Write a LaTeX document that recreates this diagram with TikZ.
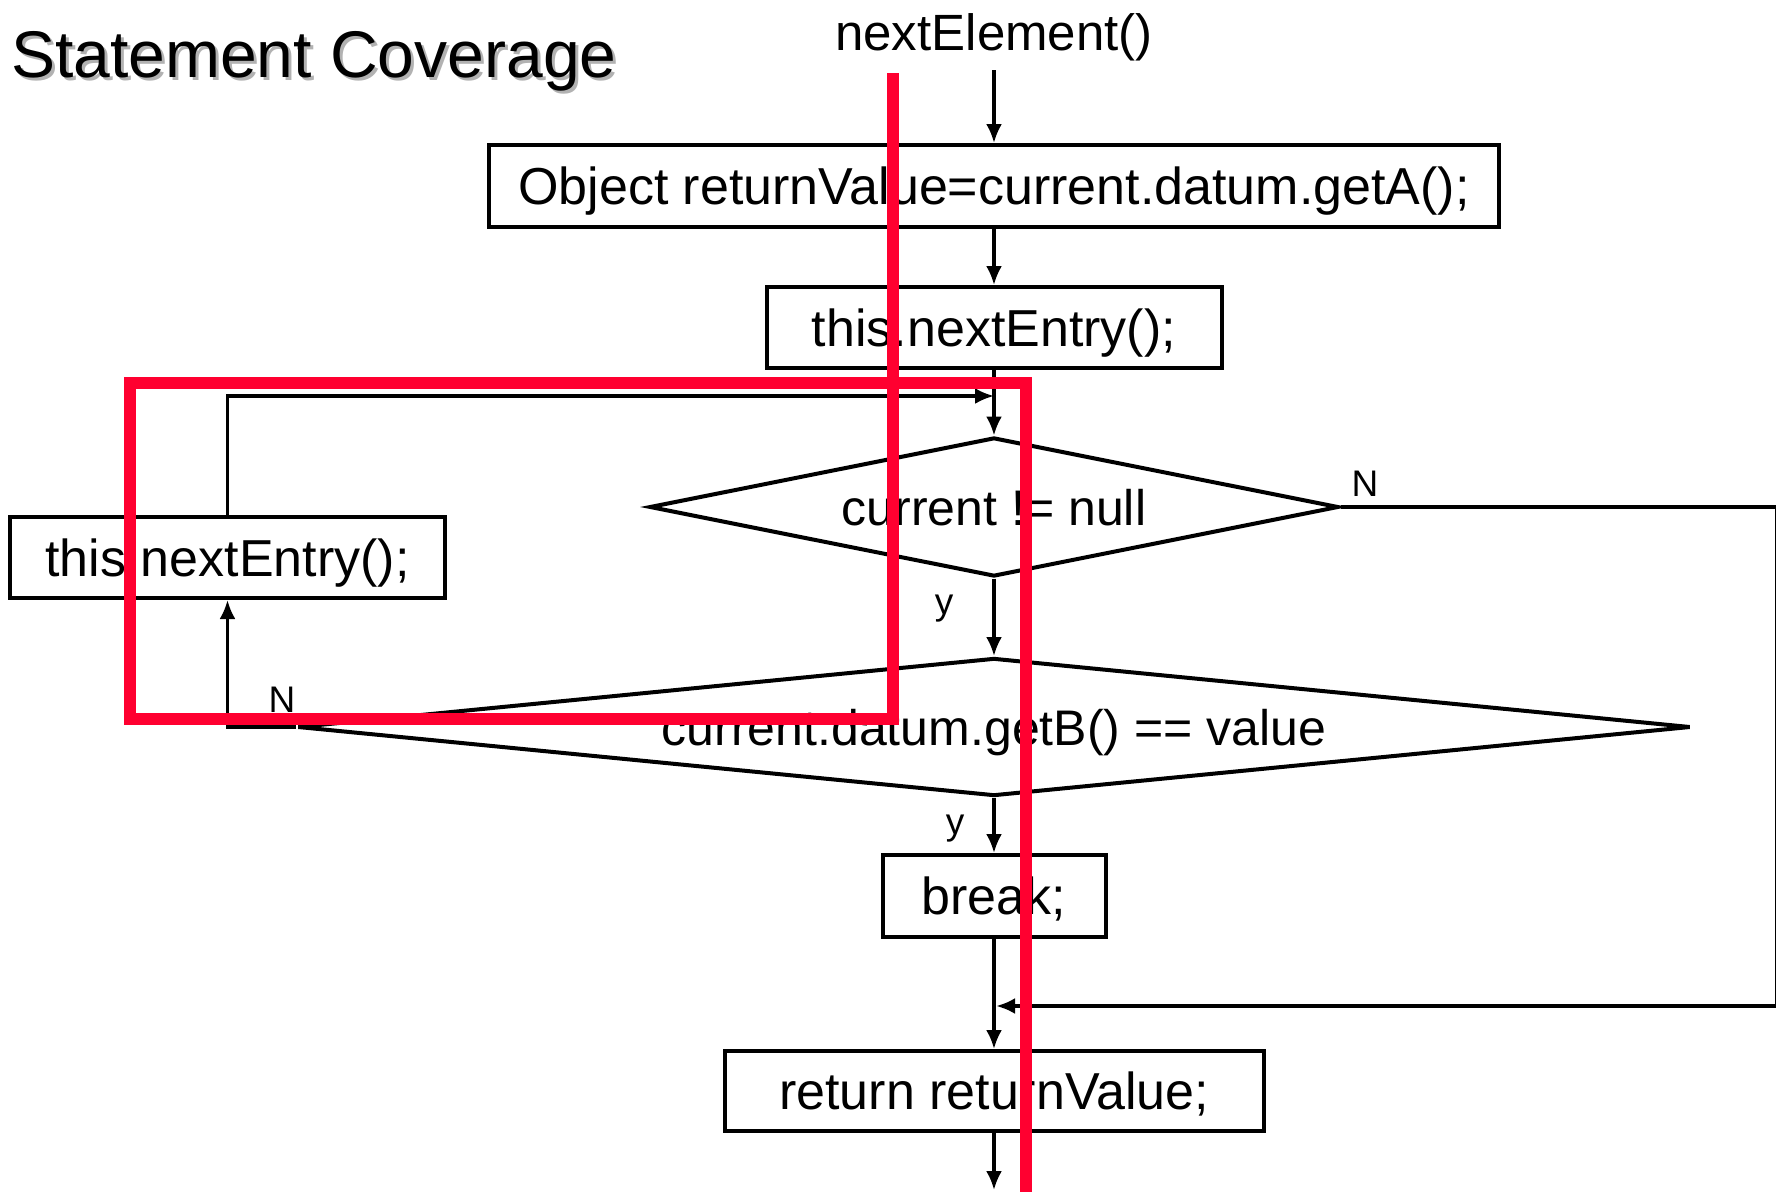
\documentclass[tikz,border=0pt]{standalone}
\usepackage{fontspec}
\setmainfont{Liberation Sans}
\usetikzlibrary{shapes.geometric,arrows.meta}
\definecolor{markred}{RGB}{255,0,48}
\begin{document}
\begin{tikzpicture}[x=1pt,y=-1pt,
  box/.style={draw,line width=4pt,inner sep=0pt,text height=37pt,text depth=0pt,font=\fontsize{52}{60}\selectfont},
  dia/.style={diamond,draw,line width=4pt,inner sep=0pt,text height=36pt,text depth=0pt,font=\fontsize{50}{60}\selectfont},
  conn/.style={line width=3.2pt,-{Latex[length=19pt,width=16pt]}},
  thickconn/.style={line width=4pt,-{Latex[length=19pt,width=16pt]}},
  lbl/.style={font=\fontsize{37}{40}\selectfont,inner sep=0pt},
  redmark/.style={draw=markred,line width=12pt,line join=miter}
]
\useasboundingbox (0,0) rectangle (1776,1191);
\fill[white] (0,0) rectangle (1776,1191);

% title with shadow
\node[anchor=base west,inner sep=0pt,font=\fontsize{66}{70}\selectfont,text=black!30] (titleshadow) at (14,80) {Statement Coverage};
\node[anchor=base west,inner sep=0pt,font=\fontsize{66}{70}\selectfont] (title) at (11,77) {Statement Coverage};

% entry label
\node[anchor=base,inner sep=0pt,font=\fontsize{51}{60}\selectfont] (entry) at (994,50) {nextElement()};
\coordinate (start) at (994,70);

% boxes
\node[box,minimum width=1010pt,minimum height=82pt] (b1) at (994,186) {Object returnValue=current.datum.getA();};
\node[box,minimum width=455pt,minimum height=81pt] (b2) at (994,327.5) {this.nextEntry();};
\node[dia,minimum width=689pt,minimum height=139pt,aspect=4.96] (d1) at (994,507) {current != null};
\node[dia,minimum width=1393pt,minimum height=138pt,aspect=10] (d2) at (994,727) {current.datum.getB() == value};
\node[box,minimum width=435pt,minimum height=81pt] (lb) at (227.5,557.5) {this.nextEntry();};
\node[box,minimum width=223pt,minimum height=82pt] (brk) at (994,896) {break;};
\node[box,minimum width=539pt,minimum height=80pt] (ret) at (994,1091) {return returnValue;};

\coordinate (join) at (994,396);
\coordinate (merge) at (996,1006);
\coordinate (finish) at (994,1190);

% connectors
\draw[conn] (start) -- (b1.north);
\draw[conn] (b1.south) -- (b2.north);
\draw[conn] (b2.south) -- (d1.north);
\draw[conn] (lb.north) |- (join);
\draw[conn] (d1.south) -- (d2.north);
\draw[thickconn] (d1.east) -- ++(436,0) |- (merge);
\draw[conn] (d2.west) -| (lb.south);
\draw[conn] (d2.south) -- (brk.north);
\draw[conn] (brk.south) -- (ret.north);
\draw[conn] (ret.south) -- (finish);

% labels
\node[lbl] (n1) at (1365,484) {N};
\node[lbl] (y1) at (944,609) {y};
\node[lbl] (n2) at (282,700) {N};
\node[lbl] (y2) at (955,829) {y};

% red marking
\draw[redmark] (893,73) -- (893,719) -- (130,719) -- (130,383) -- (1026,383) -- (1026,1195);
\end{tikzpicture}
\end{document}
